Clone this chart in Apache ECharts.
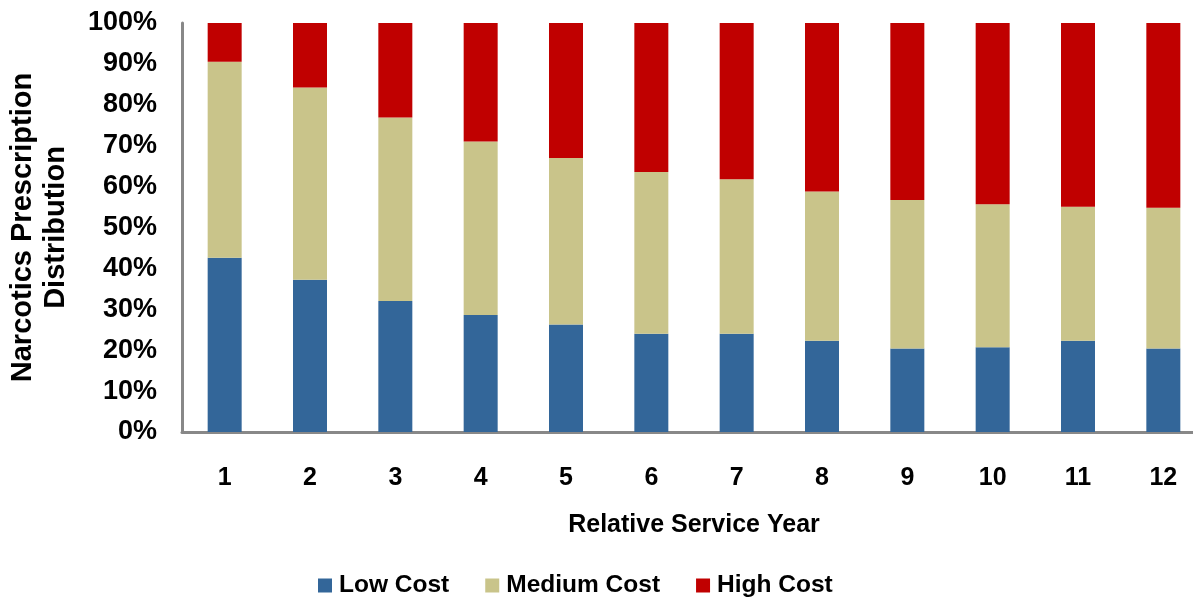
<!DOCTYPE html>
<html>
<head>
<meta charset="utf-8">
<title>Narcotics Prescription Distribution</title>
<script src="https://cdn.jsdelivr.net/npm/echarts@6/dist/echarts.min.js"></script>
<style>
  html, body { margin: 0; padding: 0; background: #ffffff; }
  #chart { width: 1193px; height: 599px; }
</style>
</head>
<body>
<div id="chart"></div>
<script>
// Relative service years (category axis)
const years = ['1', '2', '3', '4', '5', '6', '7', '8', '9', '10', '11', '12'];

// Share of prescriptions per cost tier, percent of each year's total
const lowCost    = [42.6, 37.2, 32.0, 28.6, 26.3, 24.0, 24.0, 22.3, 20.4, 20.7, 22.3, 20.4];
const mediumCost = [47.9, 47.0, 44.9, 42.4, 40.7, 39.6, 37.8, 36.5, 36.3, 35.0, 32.8, 34.4];
const highCost   = [ 9.5, 15.8, 23.1, 29.0, 33.0, 36.4, 38.2, 41.2, 43.3, 44.3, 44.9, 45.2];

const seriesNames = ['Low Cost', 'Medium Cost', 'High Cost'];
const seriesColors = ['#336699', '#C9C48A', '#C00000'];

const FONT = '"Liberation Sans", Arial, sans-serif';
const AXIS_GRAY = '#888888';

const chart = echarts.init(document.getElementById('chart'), null, { renderer: 'canvas' });

const values = [lowCost, mediumCost, highCost];

chart.setOption({
  animation: false,
  backgroundColor: '#ffffff',
  textStyle: { fontFamily: FONT },
  grid: { left: 182, top: 23, width: 1024, height: 409, containLabel: false, outerBoundsMode: 'none' },
  legend: {
    data: seriesNames,
    left: 313,
    top: 568,
    itemWidth: 14,
    itemHeight: 14,
    itemGap: 36,
    icon: 'rect',
    textStyle: { fontFamily: FONT, fontSize: 24.5, fontWeight: 'bold', color: '#000', padding: [0, 0, 0, 2] }
  },
  xAxis: {
    type: 'category',
    data: years,
    name: 'Relative Service Year',
    nameLocation: 'middle',
    nameGap: 81,
    nameTextStyle: { fontFamily: FONT, fontSize: 25, fontWeight: 'bold', color: '#000' },
    axisLine: { show: true, lineStyle: { color: AXIS_GRAY, width: 3 } },
    axisTick: { show: false },
    axisLabel: { margin: 34, fontFamily: FONT, fontSize: 25, fontWeight: 'bold', color: '#000' },
    splitLine: { show: false }
  },
  yAxis: {
    type: 'value',
    min: 0,
    max: 100,
    interval: 10,
    name: 'Narcotics Prescription\nDistribution',
    nameLocation: 'middle',
    nameRotate: 90,
    nameGap: 110,
    nameTextStyle: { fontFamily: FONT, fontSize: 29, fontWeight: 'bold', color: '#000', lineHeight: 33 },
    axisLine: { show: true, lineStyle: { color: AXIS_GRAY, width: 3 } },
    axisTick: { show: false },
    splitLine: { show: false },
    axisLabel: {
      margin: 25,
      formatter: '{value}%',
      fontFamily: FONT, fontSize: 27, fontWeight: 'bold', color: '#000'
    }
  },
  series: seriesNames.map((name, i) => ({
    name: name,
    type: 'bar',
    stack: 'share',
    barWidth: 34,
    itemStyle: { color: seriesColors[i] },
    data: values[i]
  }))
});
</script>
</body>
</html>
